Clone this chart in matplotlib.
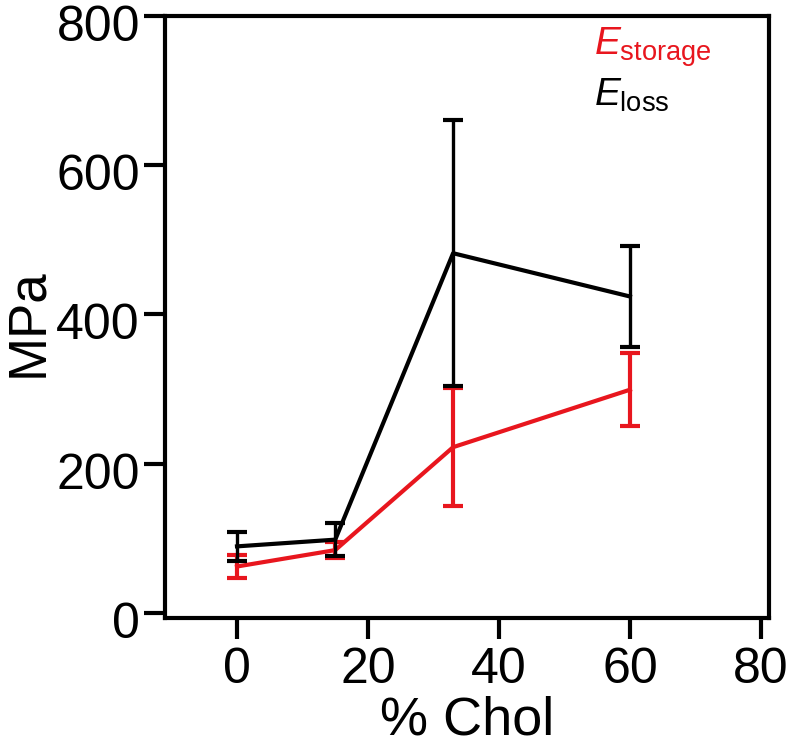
import matplotlib
matplotlib.use("Agg")
import matplotlib.pyplot as plt
import matplotlib.transforms as mtransforms

# Data
chol = [0, 15, 33, 60]
e_storage = [62, 84, 222, 299]
e_storage_err = [16, 11, 79, 49]
e_loss = [89, 98, 482, 424]
e_loss_err = [19, 22, 178, 68]

xticks = [0, 20, 40, 60, 80]
yticks = [0, 200, 400, 600, 800]

plt.rcParams['font.family'] = ['Liberation Sans', 'DejaVu Sans']
plt.rcParams['mathtext.fontset'] = 'custom'
plt.rcParams['mathtext.rm'] = 'Liberation Sans'
plt.rcParams['mathtext.it'] = 'Liberation Sans:italic'

RED = '#e8161e'

fig = plt.figure(figsize=(7.95, 7.45), dpi=100)
ax = fig.add_axes([0.2075, 0.1705, 0.7595, 0.808])

lw = 3.0
ax.errorbar(chol, e_loss, yerr=e_loss_err, color='black', lw=lw,
            elinewidth=lw * 0.8, capsize=7, capthick=lw, zorder=3)
ax.errorbar(chol, e_storage, yerr=e_storage_err, color=RED, lw=lw,
            elinewidth=lw, capsize=7, capthick=lw, zorder=2)

ax.set_xlim(-11, 81.2)
ax.set_ylim(-7, 800)
ax.set_xticks(xticks)
ax.set_yticks(yticks)

for s in ax.spines.values():
    s.set_linewidth(3)
ax.tick_params(axis='both', direction='out', length=15, width=3,
               labelsize=36)
ax.tick_params(axis='x', pad=6)
ax.tick_params(axis='y', pad=3)

offset = mtransforms.ScaledTranslation(0, -5 / 72, fig.dpi_scale_trans)
for lab in ax.get_yticklabels():
    lab.set_transform(lab.get_transform() + offset)

ax.set_xlabel('% Chol', fontsize=39, labelpad=2)
ax.set_ylabel('MPa', fontsize=38, labelpad=0)
ax.yaxis.set_label_coords(-0.185, 0.49)

ax.text(0.71, 0.985, r'$\mathit{E}_{\mathrm{storage}}$', color=RED,
        fontsize=28, transform=ax.transAxes, ha='left', va='top')
ax.text(0.71, 0.90, r'$\mathit{E}_{\mathrm{loss}}$', color='black',
        fontsize=28, transform=ax.transAxes, ha='left', va='top')

fig.savefig('out.png', dpi=100)
